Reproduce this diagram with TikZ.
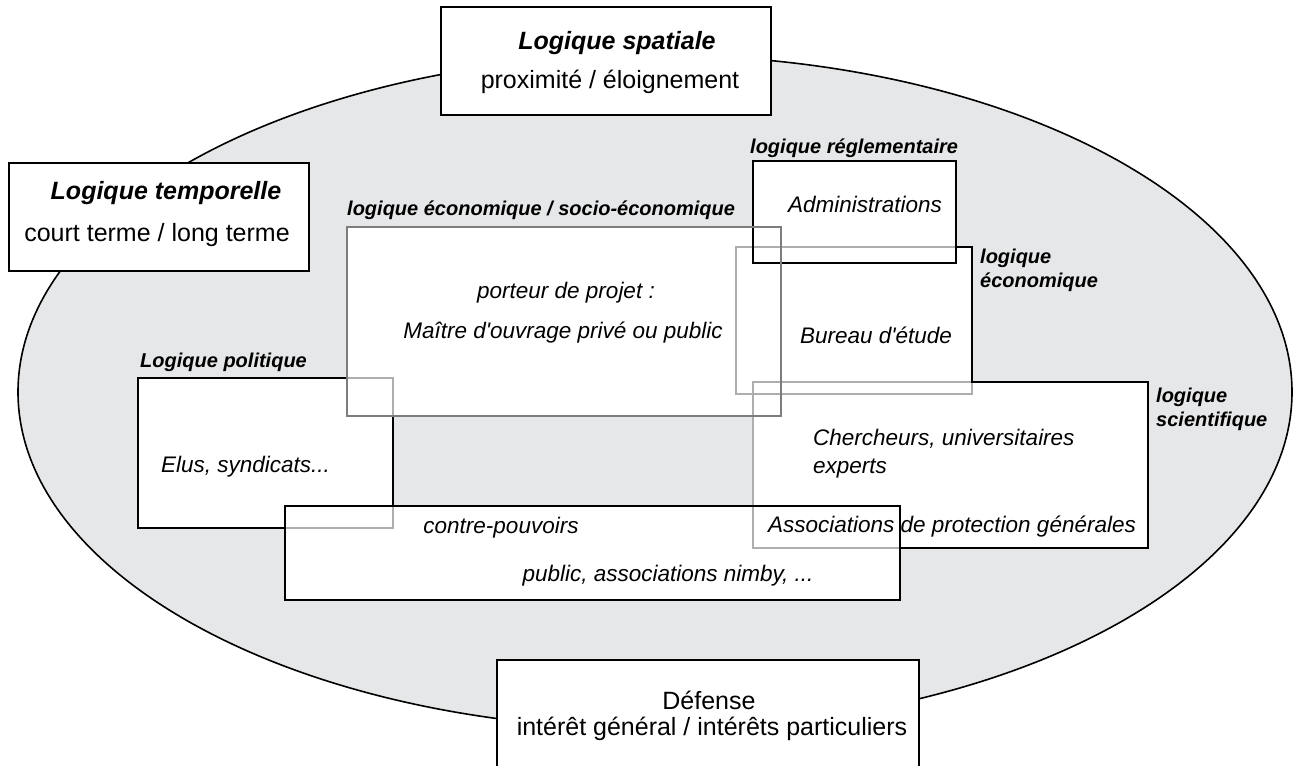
\documentclass[tikz,border=0pt]{standalone}
\usepackage{fontspec}
\setmainfont{Liberation Sans}[Ligatures=TeXOff]
\definecolor{ellfill}{HTML}{E6E7E8}
\definecolor{midgray}{HTML}{7D7D7D}
\definecolor{lgray}{HTML}{AEAEAE}
\begin{document}
\begin{tikzpicture}[x=1pt,y=-1pt,
  frame/.style={draw=black, line width=2.4pt, fill=white, inner sep=0pt, outer sep=0pt, anchor=north west},
  boxfill/.style={draw=none, fill=white, inner sep=0pt, outer sep=0pt, anchor=north west},
  blackline/.style={draw=black, line width=2.4pt, line cap=rect},
  lightline/.style={draw=lgray, line width=2.4pt, line cap=rect},
  midline/.style={draw=midgray, line width=2.4pt, line cap=rect},
  head/.style={font=\fontsize{20pt}{24pt}\selectfont\bfseries\itshape, inner sep=0pt, anchor=west, align=left},
  itx/.style={font=\fontsize{22.5pt}{28pt}\selectfont\itshape, inner sep=0pt},
  big/.style={font=\fontsize{25pt}{30pt}\selectfont, inner sep=0pt},
  bigb/.style={font=\fontsize{25pt}{30pt}\selectfont\bfseries\itshape, inner sep=0pt}]
\useasboundingbox (0,0) rectangle (1310,766);

% ellipse
\draw[fill=ellfill, draw=black, line width=1.6pt] (655,392) ellipse [x radius=637, y radius=337];

% outer boxes
\node[frame, minimum width=330pt, minimum height=108pt] (S) at (441,7) {};
\node[frame, minimum width=300pt, minimum height=108pt] (T) at (9,163) {};
\node[frame, minimum width=422pt, minimum height=140pt] (D) at (497,660) {};

% inner box fills
\node[boxfill, minimum width=255pt, minimum height=150pt] (E) at (138,378) {};
\node[boxfill, minimum width=615pt, minimum height=94pt] (C) at (285,506) {};
\node[boxfill, minimum width=395pt, minimum height=166pt] (R) at (753,382) {};
\node[boxfill, minimum width=236pt, minimum height=147pt] (B) at (736,247) {};
\node[boxfill, minimum width=203pt, minimum height=102pt] (A) at (753,161) {};
\node[boxfill, minimum width=434pt, minimum height=189pt] (P) at (347,227) {};

% light grey outlines (overlap parts)
\draw[lightline] (E.north west) rectangle (E.south east);
\draw[lightline] (B.north west) rectangle (B.south east);
\draw[lightline] (R.north west) rectangle (R.south east);

% black outlines
\draw[blackline] (A.north west) rectangle (A.south east);
\draw[blackline] (C.north west) rectangle (C.south east);
\draw[blackline] (E.north -| P.west) -- (E.north west) -- (E.south west) -- (E.south -| C.west);
\draw[blackline] (E.east |- P.south) -- (E.east |- C.north);
\draw[blackline] (B.north -| A.east) -- (B.north east) -- (B.east |- R.north);
\draw[blackline] (R.north -| B.east) -- (R.north east) -- (R.south east) -- (R.south -| C.east);

% porteur outline on top
\draw[midline] (P.north west) rectangle (P.south east);

% texts
\node[bigb] (tS1) at (617,43) {Logique spatiale};
\node[big] (tS2) at (610,82) {proximité / éloignement};
\node[bigb] (tT1) at (166,193) {Logique temporelle};
\node[big] (tT2) at (157,235) {court terme / long terme};
\node[big] (tD1) at (709,700) {Défense};
\node[big] (tD2) at (712,729) {intérêt général / intérêts particuliers};

\node[head] (hP) at (347,210) {logique économique / socio-économique};
\node[head] (hA) at (750,148) {logique réglementaire};
\node[head] (hB) at (980,270) {logique\\économique};
\node[head] (hR) at (1156,409) {logique\\scientifique};
\node[head] (hE) at (140,362) {Logique politique};

\node[itx] (tP1) at (566,293) {porteur de projet :};
\node[itx] (tP2) at (563,333) {Maître d'ouvrage privé ou public};
\node[itx] (tA) at (865,204) {Administrations};
\node[itx] (tB) at (876,335) {Bureau d'étude};
\node[itx, anchor=west, align=left] (tR) at (813,454) {Chercheurs, universitaires\\experts};
\node[itx] (tR2) at (952,527) {Associations de protection générales};
\node[itx, anchor=west] (tE) at (161,467) {Elus, syndicats...};
\node[itx] (tC1) at (501,528) {contre-pouvoirs};
\node[itx] (tC2) at (668,576) {public, associations nimby, ...};
\end{tikzpicture}
\end{document}
